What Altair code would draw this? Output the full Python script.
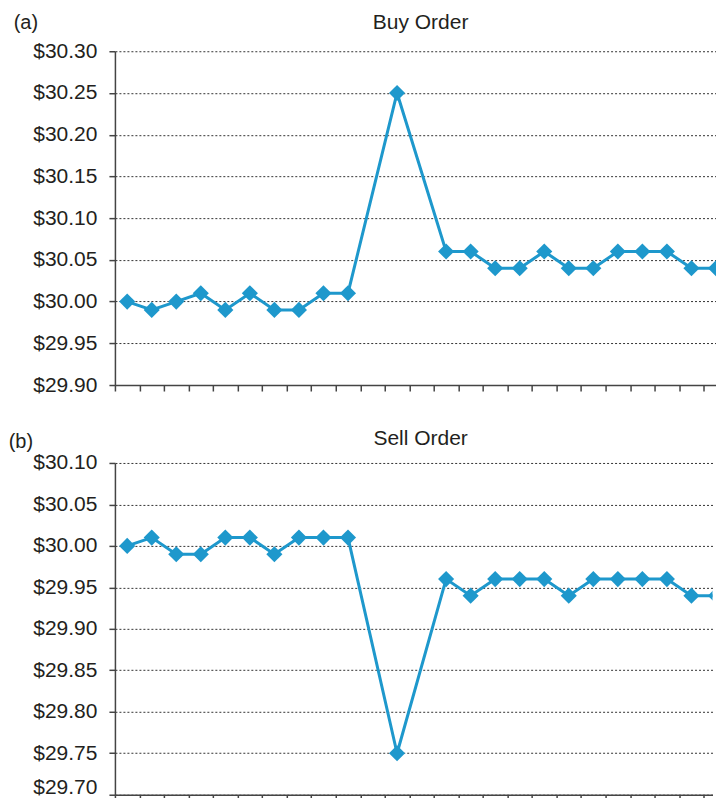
import altair as alt
import pandas as pd

# ---- data ----
slots = list(range(25))
buy_prices = [30.00, 29.99, 30.00, 30.01, 29.99, 30.01, 29.99, 29.99, 30.01, 30.01,
              None, 30.25, None, 30.06, 30.06, 30.04, 30.04, 30.06, 30.04, 30.04,
              30.06, 30.06, 30.06, 30.04, 30.04]
sell_prices = [30.00, 30.01, 29.99, 29.99, 30.01, 30.01, 29.99, 30.01, 30.01, 30.01,
               None, 29.75, None, 29.96, 29.94, 29.96, 29.96, 29.96, 29.94, 29.96,
               29.96, 29.96, 29.96, 29.94, 29.94]
buy_ticks = [29.90, 29.95, 30.00, 30.05, 30.10, 30.15, 30.20, 30.25, 30.30]
sell_ticks = [29.70, 29.75, 29.80, 29.85, 29.90, 29.95, 30.00, 30.05, 30.10]

FONT = "Liberation Sans"
BLUE = "#1e98cc"
PX_PER_SLOT = 24.55
FULL_W = 25 * PX_PER_SLOT


def panel(prices, ticks, title, tag, plot_w, plot_h, tag_x, tag_y, title_y, bottom_shift):
    df = pd.DataFrame({"slot": [s + 0.5 for s in slots], "price": prices}).dropna()
    xmax = plot_w / PX_PER_SLOT
    x = alt.X("slot:Q", scale=alt.Scale(domain=[0, xmax], nice=False, zero=False),
              axis=alt.Axis(values=slots, labels=False, title=None, grid=False,
                            tickSize=6, tickColor="#444", domainColor="#444",
                            tickWidth=1.5, domainWidth=1.5))
    lab_off = {"condition": {"test": "datum.value < %f" % (ticks[0] + 0.01),
                             "value": bottom_shift}, "value": 0}
    y = alt.Y("price:Q", scale=alt.Scale(domain=[ticks[0], ticks[-1]], nice=False, zero=False),
              axis=alt.Axis(values=ticks, format="$.2f", title=None, grid=True,
                            gridDash=[2, 2], gridColor="#333", gridWidth=1,
                            tickSize=6, tickColor="#444", domainColor="#444",
                            tickWidth=1.5, domainWidth=1.5,
                            labelFont=FONT, labelFontSize=21, labelColor="#231f20",
                            labelPadding=12, labelOffset=lab_off))
    base = alt.Chart(df)
    line = base.mark_line(color=BLUE, strokeWidth=3, clip=True).encode(x=x, y=y)
    pts = base.mark_point(shape="diamond", filled=True, opacity=1, size=260,
                          color=BLUE, clip=True).encode(x=x, y=y)
    ttl = alt.Chart(pd.DataFrame({"t": [title]})).mark_text(
        font=FONT, fontSize=21, color="#231f20", align="center", baseline="alphabetic"
    ).encode(text="t:N", x=alt.value(FULL_W / 2 - 1), y=alt.value(title_y))
    tg = alt.Chart(pd.DataFrame({"t": [tag]})).mark_text(
        font=FONT, fontSize=20, color="#231f20", align="left", baseline="alphabetic"
    ).encode(text="t:N", x=alt.value(tag_x), y=alt.value(tag_y))
    return alt.layer(line, pts, ttl, tg).properties(width=plot_w, height=plot_h)


top = panel(buy_prices, buy_ticks, "Buy Order", "(a)", 603, 334, -101.3, -22.5, -22, 0)
bottom = panel(sell_prices, sell_ticks, "Sell Order", "(b)", 598, 332, -106.3, -15, -18, -7)

chart = alt.concat(top, bottom, columns=1, spacing=33).properties(
    align="none", padding={"left": 0, "top": 4, "right": -1.5, "bottom": -4}
).configure_view(stroke=None)

chart.save("out.html", embed_options={"renderer": "svg", "actions": False})
